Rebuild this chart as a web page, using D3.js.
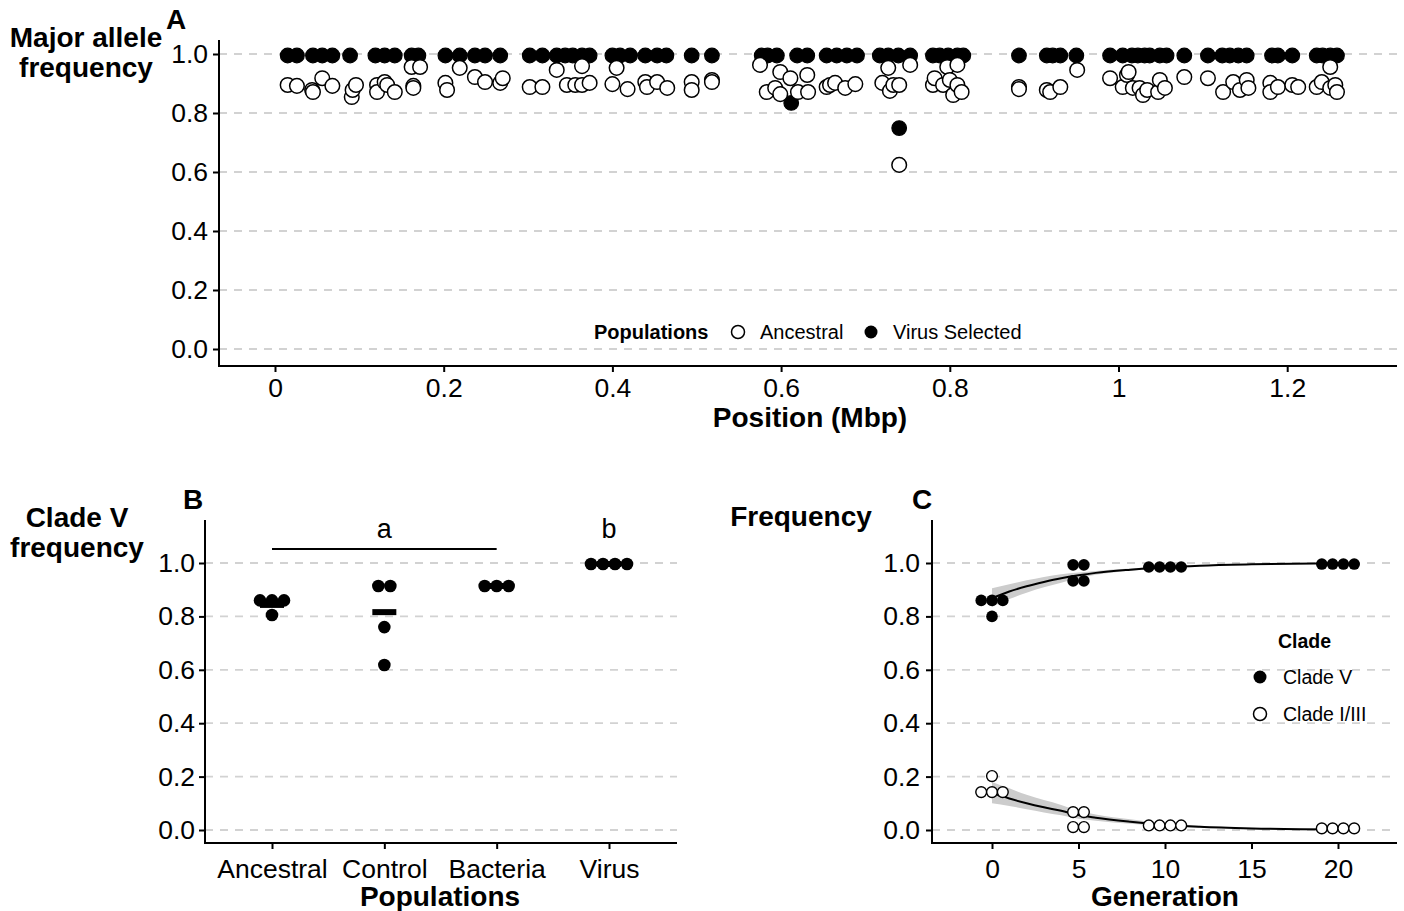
<!DOCTYPE html>
<html>
<head>
<meta charset="utf-8">
<script src="https://cdn.jsdelivr.net/npm/d3@7"></script>
<style>
  body { margin: 0; background: #fff; }
  svg text { font-family: "Liberation Sans", Arial, sans-serif; fill: #000; }
</style>
</head>
<body>
<svg id="chart" width="1404" height="911"></svg>
<script>
/* DATA */
const freqTicks = [0, 0.2, 0.4, 0.6, 0.8, 1.0];
const posTicks = [0, 0.2, 0.4, 0.6, 0.8, 1, 1.2];
const genTicks = [0, 5, 10, 15, 20];

// panel A - virus selected (filled)
const virusPos = [0.015, 0.026, 0.045, 0.056, 0.068, 0.089, 0.119, 0.130, 0.142, 0.162, 0.170, 0.202, 0.219, 0.237,
  0.249, 0.267, 0.302, 0.317, 0.334, 0.344, 0.353, 0.364, 0.373, 0.400, 0.409, 0.421, 0.439, 0.453, 0.464, 0.494,
  0.518, 0.577, 0.584, 0.595, 0.612, 0.619, 0.631, 0.654, 0.666, 0.678, 0.690, 0.717, 0.727, 0.739, 0.740, 0.753,
  0.780, 0.788, 0.798, 0.809, 0.816, 0.882, 0.915, 0.922, 0.931, 0.950, 0.990, 1.005, 1.016, 1.023, 1.031, 1.037,
  1.049, 1.057, 1.078, 1.106, 1.123, 1.132, 1.142, 1.152, 1.182, 1.189, 1.206, 1.235, 1.242, 1.251, 1.259];
const virusFreq = [0.995, 0.995, 0.995, 0.995, 0.995, 0.995, 0.995, 0.995, 0.995, 0.995, 0.995, 0.995, 0.995, 0.995,
  0.995, 0.995, 0.995, 0.995, 0.995, 0.995, 0.995, 0.995, 0.995, 0.995, 0.995, 0.995, 0.995, 0.995, 0.995, 0.995,
  0.995, 0.995, 0.995, 0.995, 0.834, 0.995, 0.995, 0.995, 0.995, 0.995, 0.995, 0.995, 0.995, 0.995, 0.749, 0.995,
  0.995, 0.995, 0.995, 0.995, 0.995, 0.995, 0.995, 0.995, 0.995, 0.995, 0.995, 0.995, 0.995, 0.995, 0.995, 0.995,
  0.995, 0.995, 0.995, 0.995, 0.995, 0.995, 0.995, 0.995, 0.995, 0.995, 0.995, 0.995, 0.995, 0.995, 0.995];

// panel A - ancestral (open)
const ancestralPos = [0.015, 0.026, 0.044, 0.045, 0.056, 0.068, 0.091, 0.092, 0.096, 0.121, 0.121, 0.130, 0.133, 0.142,
  0.162, 0.172, 0.164, 0.164, 0.202, 0.204, 0.219, 0.237, 0.249, 0.267, 0.270, 0.302, 0.317, 0.334, 0.346, 0.356,
  0.364, 0.364, 0.373, 0.400, 0.405, 0.418, 0.439, 0.441, 0.453, 0.465, 0.494, 0.494, 0.518, 0.518, 0.575, 0.583,
  0.593, 0.599, 0.599, 0.611, 0.620, 0.631, 0.632, 0.654, 0.658, 0.664, 0.676, 0.688, 0.720, 0.727, 0.729, 0.733,
  0.740, 0.740, 0.753, 0.780, 0.782, 0.792, 0.797, 0.800, 0.804, 0.809, 0.809, 0.814, 0.882, 0.882, 0.915, 0.919,
  0.931, 0.951, 0.990, 1.005, 1.010, 1.012, 1.017, 1.025, 1.029, 1.034, 1.047, 1.049, 1.055, 1.078, 1.106, 1.124,
  1.136, 1.144, 1.152, 1.154, 1.180, 1.180, 1.189, 1.206, 1.213, 1.235, 1.241, 1.251, 1.251, 1.257, 1.259];
const ancestralFreq = [0.895, 0.892, 0.878, 0.871, 0.918, 0.892, 0.854, 0.878, 0.895, 0.895, 0.871, 0.905, 0.895, 0.871,
  0.956, 0.956, 0.892, 0.885, 0.902, 0.878, 0.953, 0.922, 0.905, 0.902, 0.918, 0.888, 0.888, 0.946, 0.895, 0.895,
  0.959, 0.895, 0.902, 0.898, 0.953, 0.881, 0.905, 0.888, 0.905, 0.885, 0.905, 0.878, 0.912, 0.905, 0.963, 0.871,
  0.885, 0.939, 0.864, 0.918, 0.871, 0.929, 0.871, 0.888, 0.895, 0.902, 0.885, 0.898, 0.902, 0.953, 0.875, 0.895,
  0.895, 0.624, 0.963, 0.895, 0.918, 0.895, 0.956, 0.912, 0.861, 0.963, 0.895, 0.871, 0.888, 0.881, 0.878, 0.871,
  0.888, 0.946, 0.918, 0.888, 0.929, 0.939, 0.885, 0.885, 0.861, 0.878, 0.871, 0.912, 0.885, 0.922, 0.918, 0.871,
  0.905, 0.878, 0.912, 0.885, 0.902, 0.871, 0.888, 0.895, 0.888, 0.888, 0.905, 0.956, 0.885, 0.895, 0.871];

// panel B
const populations = ['Ancestral', 'Control', 'Bacteria', 'Virus'];
const cladeVByPop = [[0.86, 0.86, 0.86, 0.805], [0.914, 0.914, 0.76, 0.618], [0.914, 0.914, 0.914], [0.996, 0.996, 0.996, 0.996]];
const cladeVMean = [0.843, 0.816, 0.914, 0.996];

// panel C
const generations = [0, 5, 10, 20];
const cladeVByGen = [[0.86, 0.86, 0.86, 0.80], [0.993, 0.993, 0.933, 0.933], [0.985, 0.985, 0.985, 0.985], [0.996, 0.996, 0.996, 0.996]];
const cladeIByGen = [[0.142, 0.142, 0.142, 0.202], [0.067, 0.067, 0.011, 0.011], [0.017, 0.017, 0.017, 0.017], [0.006, 0.006, 0.006, 0.006]];
const fitGen = [0, 1, 2, 3, 4, 5, 6, 8, 10, 12, 15, 20];
const fitV = [0.868, 0.893, 0.913, 0.929, 0.943, 0.954, 0.963, 0.975, 0.984, 0.990, 0.995, 0.999];
const fitVLow = [0.835, 0.865, 0.889, 0.909, 0.926, 0.944, 0.956, 0.971, 0.981, 0.988, 0.994, 0.998];
const fitVHigh = [0.905, 0.920, 0.935, 0.948, 0.958, 0.964, 0.970, 0.979, 0.987, 0.992, 0.996, 1.000];
const fitI = [0.138, 0.118, 0.100, 0.085, 0.072, 0.056, 0.046, 0.031, 0.019, 0.012, 0.006, 0.002];
const fitILow = [0.100, 0.090, 0.078, 0.066, 0.055, 0.042, 0.035, 0.023, 0.014, 0.009, 0.004, 0.000];
const fitIHigh = [0.180, 0.156, 0.132, 0.112, 0.094, 0.072, 0.058, 0.040, 0.025, 0.016, 0.008, 0.004];

/* HELPERS */
const svg = d3.select('#chart');
const gridColor = '#d2d2d2';
const tickFont = 26.5;
const titleFont = 28;

function frame(box, y) {
  // dashed horizontal grid
  svg.append('g').selectAll('line').data(freqTicks).join('line')
    .attr('x1', box.left).attr('x2', box.right)
    .attr('y1', d => y(d)).attr('y2', d => y(d))
    .attr('stroke', gridColor).attr('stroke-width', 1.8).attr('stroke-dasharray', '8,7');
  // axis lines
  svg.append('line').attr('x1', box.left).attr('x2', box.left).attr('y1', box.top).attr('y2', box.bottom + 1)
    .attr('stroke', '#000').attr('stroke-width', 2);
  svg.append('line').attr('x1', box.left - 1).attr('x2', box.right).attr('y1', box.bottom).attr('y2', box.bottom)
    .attr('stroke', '#000').attr('stroke-width', 2);
}

function styleAxis(g, size) {
  g.select('.domain').remove();
  g.selectAll('.tick line').attr('stroke', '#000').attr('stroke-width', 2);
  g.selectAll('.tick text').style('font-size', size + 'px').attr('fill', '#000');
}

function dodge(values, center, spacing) {
  // spread equal values side by side, like a dot plot
  const out = [];
  const groups = d3.group(values, v => v);
  groups.forEach((arr, v) => {
    arr.forEach((_, i) => out.push({ x: center + (i - (arr.length - 1) / 2) * spacing, v: v }));
  });
  return out;
}

function label(x, y, txt, size, bold, anchor) {
  return svg.append('text').attr('x', x).attr('y', y).text(txt)
    .style('font-size', size + 'px').style('font-weight', bold ? 'bold' : 'normal')
    .attr('text-anchor', anchor || 'middle');
}

/* PANEL A */
const boxA = { left: 219, right: 1397, top: 40, bottom: 366 };
const xA = d3.scaleLinear().domain([0, 1]).range([275, 1118.5]);
const yA = d3.scaleLinear().domain([0, 1]).range([349, 54]);
frame(boxA, yA);

svg.append('g').attr('transform', `translate(${boxA.left},0)`)
  .call(d3.axisLeft(yA).tickValues(freqTicks).tickFormat(d3.format('.1f')).tickSize(6).tickPadding(5))
  .call(g => styleAxis(g, tickFont));
svg.append('g').attr('transform', `translate(0,${boxA.bottom})`)
  .call(d3.axisBottom(xA).tickValues(posTicks).tickFormat(d => String(d)).tickSize(6).tickPadding(6))
  .call(g => styleAxis(g, tickFont));

svg.append('g').selectAll('circle').data(d3.range(virusPos.length)).join('circle')
  .attr('cx', i => xA(virusPos[i])).attr('cy', i => yA(virusFreq[i])).attr('r', 7.3)
  .attr('fill', '#000').attr('stroke', '#000').attr('stroke-width', 1.2);
svg.append('g').selectAll('circle').data(d3.range(ancestralPos.length)).join('circle')
  .attr('cx', i => xA(ancestralPos[i])).attr('cy', i => yA(ancestralFreq[i])).attr('r', 7.3)
  .attr('fill', '#fff').attr('stroke', '#000').attr('stroke-width', 1.5);

label(86, 47, 'Major allele', titleFont, true);
label(86, 77, 'frequency', titleFont, true);
label(176, 29, 'A', titleFont, true);
label(810, 427, 'Position (Mbp)', titleFont, true);

// legend A
label(594, 339, 'Populations', 20, true, 'start');
svg.append('circle').attr('cx', 738).attr('cy', 332).attr('r', 6.5).attr('fill', '#fff').attr('stroke', '#000').attr('stroke-width', 1.5);
label(760, 339, 'Ancestral', 20, false, 'start');
svg.append('circle').attr('cx', 871).attr('cy', 332).attr('r', 6.5).attr('fill', '#000');
label(893, 339, 'Virus Selected', 20, false, 'start');

/* PANEL B */
const boxB = { left: 205, right: 677, top: 520, bottom: 843 };
const xB = d3.scalePoint().domain(populations).range([272, 609]);
const yB = d3.scaleLinear().domain([0, 1]).range([830, 563]);
frame(boxB, yB);

svg.append('g').attr('transform', `translate(${boxB.left},0)`)
  .call(d3.axisLeft(yB).tickValues(freqTicks).tickFormat(d3.format('.1f')).tickSize(6).tickPadding(4))
  .call(g => styleAxis(g, tickFont));
svg.append('g').attr('transform', `translate(0,${boxB.bottom})`)
  .call(d3.axisBottom(xB).tickSize(6).tickPadding(10))
  .call(g => styleAxis(g, tickFont));

// mean bars
svg.append('g').selectAll('rect').data(populations).join('rect')
  .attr('x', d => xB(d) - 12).attr('width', 24)
  .attr('y', (d, i) => yB(cladeVMean[i]) - 3).attr('height', 6)
  .attr('fill', '#000');

populations.forEach((p, i) => {
  svg.append('g').selectAll('circle').data(dodge(cladeVByPop[i], xB(p), 12)).join('circle')
    .attr('cx', d => d.x).attr('cy', d => yB(d.v)).attr('r', 6.3).attr('fill', '#000');
});

// significance letters
svg.append('line').attr('x1', xB('Ancestral')).attr('x2', xB('Bacteria')).attr('y1', 549).attr('y2', 549)
  .attr('stroke', '#000').attr('stroke-width', 2);
label(xB('Control'), 538, 'a', 27, false);
label(xB('Virus'), 538, 'b', 27, false);

label(77, 527, 'Clade V', titleFont, true);
label(77, 557, 'frequency', titleFont, true);
label(193, 509, 'B', titleFont, true);
label(440, 906, 'Populations', titleFont, true);

/* PANEL C */
const boxC = { left: 932, right: 1397, top: 520, bottom: 843 };
const xC = d3.scaleLinear().domain([0, 20]).range([992, 1338]);
const yC = d3.scaleLinear().domain([0, 1]).range([830, 563]);
frame(boxC, yC);

svg.append('g').attr('transform', `translate(${boxC.left},0)`)
  .call(d3.axisLeft(yC).tickValues(freqTicks).tickFormat(d3.format('.1f')).tickSize(6).tickPadding(6))
  .call(g => styleAxis(g, tickFont));
svg.append('g').attr('transform', `translate(0,${boxC.bottom})`)
  .call(d3.axisBottom(xC).tickValues(genTicks).tickSize(6).tickPadding(10))
  .call(g => styleAxis(g, tickFont));

const area = (lo, hi) => d3.area().curve(d3.curveMonotoneX)
  .x((d, i) => xC(fitGen[i])).y0((d, i) => yC(lo[i])).y1((d, i) => yC(hi[i]));
const line = vals => d3.line().curve(d3.curveMonotoneX)
  .x((d, i) => xC(fitGen[i])).y((d, i) => yC(vals[i]));

[[fitVLow, fitVHigh], [fitILow, fitIHigh]].forEach(([lo, hi]) => {
  svg.append('path').attr('d', area(lo, hi)(fitGen)).attr('fill', '#cccccc');
});
[fitV, fitI].forEach(vals => {
  svg.append('path').attr('d', line(vals)(fitGen)).attr('fill', 'none').attr('stroke', '#000').attr('stroke-width', 2);
});

generations.forEach((g, i) => {
  svg.append('g').selectAll('circle').data(dodge(cladeVByGen[i], xC(g), 10.8)).join('circle')
    .attr('cx', d => d.x).attr('cy', d => yC(d.v)).attr('r', 5.8).attr('fill', '#000');
  svg.append('g').selectAll('circle').data(dodge(cladeIByGen[i], xC(g), 10.8)).join('circle')
    .attr('cx', d => d.x).attr('cy', d => yC(d.v)).attr('r', 5.4)
    .attr('fill', '#fff').attr('stroke', '#000').attr('stroke-width', 1.4);
});

label(801, 526, 'Frequency', titleFont, true);
label(922, 509, 'C', titleFont, true);
label(1165, 906, 'Generation', titleFont, true);

// legend C
label(1278, 648, 'Clade', 19.5, true, 'start');
svg.append('circle').attr('cx', 1260).attr('cy', 677).attr('r', 6.5).attr('fill', '#000');
label(1283, 684, 'Clade V', 19.5, false, 'start');
svg.append('circle').attr('cx', 1260).attr('cy', 714).attr('r', 6.5).attr('fill', '#fff').attr('stroke', '#000').attr('stroke-width', 1.5);
label(1283, 721, 'Clade I/III', 19.5, false, 'start');
</script>
</body>
</html>
